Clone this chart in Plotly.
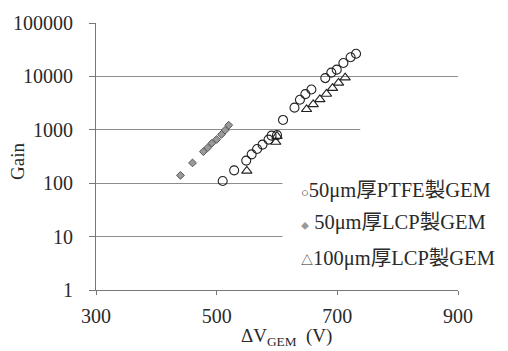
import plotly.graph_objects as go

# Gain vs. GEM voltage for three GEM foils
ptfe_v = [510, 529, 549, 558, 567, 576, 586, 591, 600, 610, 629, 638, 647, 657,
          680, 690, 699, 710, 722, 731]
ptfe_gain = [110, 174, 265, 347, 436, 528, 655, 777, 794, 1530, 2600, 3660, 4650,
             5690, 9300, 11760, 13370, 17820, 22840, 26540]

lcp50_v = [440, 460, 478, 485, 492, 500, 508, 514, 520]
lcp50_gain = [140, 240, 390, 460, 560, 660, 820, 980, 1220]

lcp100_v = [550, 598, 600, 649, 660, 671, 682, 692, 702, 713]
lcp100_gain = [170, 590, 760, 2420, 2990, 3710, 4690, 6030, 7570, 9500]

x_ticks = [300, 500, 700, 900]
y_ticks = [1, 10, 100, 1000, 10000, 100000]

legend_rows = [
    ('<span style="font-size:13px">○</span>', "50μm厚PTFE製GEM"),
    ('<span style="font-size:8px;color:#9a9a9a">◆</span> ', "50μm厚LCP製GEM"),
    ('<span style="font-size:12px">△</span>', "100μm厚LCP製GEM"),
]

FONT = "Liberation Serif, Times New Roman, Noto Sans CJK JP, serif"
TXT = "#2a2a2a"

fig = go.Figure()
fig.add_trace(go.Scatter(
    x=ptfe_v, y=ptfe_gain, mode="markers", name=legend_rows[0][1],
    marker=dict(symbol="circle-open", size=9, color="#222", line=dict(width=1.1)),
))
fig.add_trace(go.Scatter(
    x=lcp50_v, y=lcp50_gain, mode="markers", name=legend_rows[1][1],
    marker=dict(symbol="diamond", size=6, color="#9a9a9a",
                line=dict(color="#555", width=1)),
))
fig.add_trace(go.Scatter(
    x=lcp100_v, y=lcp100_gain, mode="markers", name=legend_rows[2][1],
    marker=dict(symbol="triangle-up-open", size=9, color="#222", line=dict(width=1.1)),
))

# white backing behind the legend block
fig.add_shape(type="rect", xref="paper", yref="paper", x0=0.515, x1=1.0,
              y0=0.06, y1=0.44, fillcolor="white", line_width=0, layer="above")
fig.add_shape(type="rect", xref="paper", yref="paper", x0=0.73, x1=1.0,
              y0=0.44, y1=0.63, fillcolor="white", line_width=0, layer="above")

row_y = [0.372, 0.253, 0.119]
for (sym, label), yy in zip(legend_rows, row_y):
    fig.add_annotation(xref="paper", yref="paper", x=0.56, y=yy, xanchor="left",
                       yanchor="middle", showarrow=False, text=f"{sym}{label}",
                       font=dict(family=FONT, size=20.5, color=TXT))

# axis titles
fig.add_annotation(xref="paper", yref="paper", x=0.525, y=-0.175, xanchor="center",
                   yanchor="middle", showarrow=False,
                   text="ΔV<sub>GEM</sub>  (V)", font=dict(family=FONT, size=19, color=TXT))
fig.add_annotation(xref="paper", yref="paper", x=-0.215, y=0.48, xanchor="center",
                   yanchor="middle", showarrow=False, textangle=-90,
                   text="Gain", font=dict(family=FONT, size=19, color=TXT))

fig.update_layout(
    width=508, height=351,
    margin=dict(l=96, r=50, t=21, b=61),
    paper_bgcolor="white", plot_bgcolor="white",
    showlegend=False,
    font=dict(family=FONT, size=20, color=TXT),
)
fig.update_xaxes(
    range=[300, 900], tickvals=x_ticks, ticktext=[str(v) for v in x_ticks],
    showgrid=False, zeroline=False, showline=True, linecolor="#777", linewidth=1,
    ticks="outside", ticklen=4, tickcolor="#777", ticklabelstandoff=4,
)
fig.update_yaxes(
    type="log", range=[0, 5], tickvals=y_ticks, ticktext=[str(v) for v in y_ticks],
    showgrid=True, gridcolor="#8c8c8c", gridwidth=1, zeroline=False,
    showline=True, linecolor="#777", linewidth=1,
    ticks="outside", ticklen=6, tickcolor="#777", ticklabelstandoff=12,
)

fig.write_html("out.html")
